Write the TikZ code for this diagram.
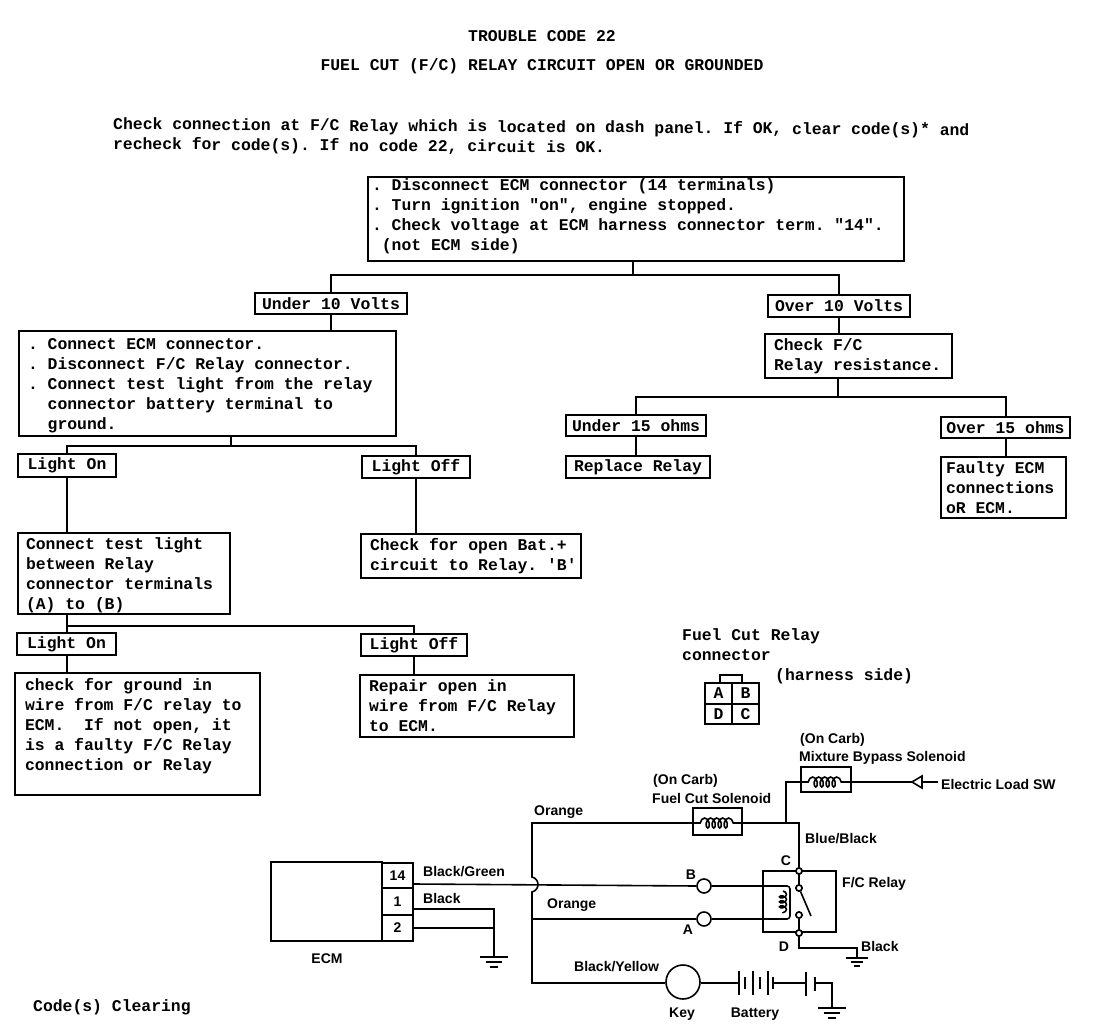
\documentclass[tikz,border=0pt]{standalone}
\usepackage{fontspec}
\usetikzlibrary{positioning,calc,decorations.pathmorphing}
\newfontfamily\flowfamily{Liberation Mono}[WordSpace={1,0,0}]
\newfontfamily\wirefont{Liberation Sans}

\begin{document}
\begin{tikzpicture}[
    x=1pt, y=-1pt,
    flow/.style={font=\flowfamily\frenchspacing\fontsize{16.4}{20}\selectfont\bfseries, inner sep=0pt},
    block/.style={flow, rectangle, draw, line width=2pt, align=flush left},
    tag/.style={block, align=center},
    conn/.style={line width=2pt},
    wire/.style={line width=1.6pt},
    wlabel/.style={font=\wirefont\fontsize{14}{16}\selectfont\bfseries, inner sep=0pt},
    pinbox/.style={rectangle, draw, line width=2pt, font=\wirefont\fontsize{14}{16}\selectfont\bfseries, inner sep=0pt},
    term/.style={circle, draw, fill=white, line width=1.6pt, inner sep=0pt},
    coilwire/.style={wire, decorate, decoration={coil, aspect=0.6, segment length=6pt, amplitude=5pt, pre length=8pt, post length=8pt}},
    gnd/.pic={
        \draw[wire] (-14,0) -- (14,0);
        \draw[wire] (-8,5) -- (8,5);
        \draw[wire] (-4,10) -- (4,10);
    },
]
\useasboundingbox (0,0) rectangle (1120,1036);

\node[flow] (title) at (542,36) {TROUBLE CODE 22};
\node[flow] (subtitle) at (542,66) {FUEL CUT (F/C) RELAY CIRCUIT OPEN OR GROUNDED};
\node[flow, align=flush left, anchor=west, rotate=-0.4] (intro) at (113,135) {Check connection at F/C Relay which is located on dash panel. If OK, clear code(s)* and\\recheck for code(s). If no code 22, circuit is OK.};

\node[block, minimum height=84pt, inner xsep=4pt, text width=528pt] (check14) at (636,219) {. Disconnect ECM connector (14 terminals)\\. Turn ignition "on", engine stopped.\\. Check voltage at ECM harness connector term. "14".\\~(not ECM side)\rule[-9.5pt]{0pt}{9.5pt}};
\node[tag, minimum width=152pt, minimum height=21pt] (under10) at (331,303.5) {Under 10 Volts};
\node[tag, minimum width=142pt, minimum height=22pt] (over10) at (839,306) {Over 10 Volts};
\node[block, minimum height=105pt, inner xsep=9pt, text width=359pt] (connect) at (207.5,383.5) {\rule{0pt}{16pt}. Connect ECM connector.\\. Disconnect F/C Relay connector.\\. Connect test light from the relay\\~~connector battery terminal to\\~~ground.};
\node[block, minimum height=44pt, inner xsep=9pt, text width=169pt] (resist) at (858.5,356) {Check F/C\\Relay resistance.};
\node[tag, minimum width=140pt, minimum height=21pt] (under15) at (636,425.5) {Under 15 ohms};
\node[tag, minimum width=129pt, minimum height=21pt] (over15) at (1005.5,427.5) {Over 15 ohms};
\node[tag, minimum width=144pt, minimum height=22pt] (replace) at (638,467) {Replace Relay};
\node[block, minimum height=61pt, inner xsep=5pt, text width=115pt] (faulty) at (1003.5,487.5) {Faulty ECM\\connections\\oR ECM.};
\node[tag, minimum width=98pt, minimum height=23pt] (on1) at (67,465.5) {Light On};
\node[tag, minimum width=108pt, minimum height=22pt] (off1) at (416,467) {Light Off};
\node[block, minimum height=81pt, inner xsep=8pt, text width=196pt] (testab) at (124,573.5) {\rule{0pt}{16pt}Connect test light\\between Relay\\connector terminals\\(A) to (B)};
\node[block, minimum height=44pt, inner xsep=9pt, text width=202pt] (openbat) at (471,556) {Check for open Bat.+\\\mbox{circuit to Relay. 'B'}};
\node[tag, minimum width=99pt, minimum height=22pt] (on2) at (66.5,644) {Light On};
\node[tag, minimum width=106pt, minimum height=22pt] (off2) at (414,645) {Light Off};
\node[block, minimum height=122pt, inner xsep=10pt, text width=225pt] (ground) at (137.5,734) {check for ground in\\wire from F/C relay to\\ECM.~~If not open, it\\is a faulty F/C Relay\\connection or Relay\\~};
\node[block, minimum height=62pt, inner xsep=9pt, text width=196pt] (repair) at (467,706) {Repair open in\\wire from F/C Relay\\to ECM.};

\coordinate (jn1) at (633,275);
\coordinate (jn2) at (838,397);
\coordinate (jn3) at (231,446);
\coordinate (jn4) at (66.5,626);

\draw[conn] (check14.south -| jn1) -- (jn1);
\draw[conn] (under10.north) |- (jn1) -| (over10.north);
\draw[conn] (under10.south) -- (connect.north -| under10.south);
\draw[conn] (over10.south) -- (resist.north -| over10.south);
\draw[conn] (resist.south -| jn2) -- (jn2);
\draw[conn] (under15.north) |- (jn2) -| (over15.north);
\draw[conn] (under15.south) -- (replace.north -| under15.south);
\draw[conn] (over15.south) -- (faulty.north -| over15.south);
\draw[conn] (connect.south -| jn3) -- (jn3);
\draw[conn] (on1.north) |- (jn3) -| (off1.north);
\draw[conn] (on1.south) -- (testab.north -| on1.south);
\draw[conn] (off1.south) -- (openbat.north -| off1.south);
\draw[conn] (testab.south -| jn4) -- (on2.north);
\draw[conn] (jn4) -| (off2.north);
\draw[conn] (on2.south) -- (ground.north -| on2.south);
\draw[conn] (off2.south) -- (repair.north -| off2.south);

\node[flow, align=flush left, anchor=west] (plugname) at (682,645) {Fuel Cut Relay\\connector};
\node[flow, anchor=west] (harness) at (775,676) {(harness side)};
\node[pinbox, flow, minimum width=27pt, minimum height=21pt] (plugA) at (718.5,693.5) {A};
\node[pinbox, flow, minimum width=27pt, minimum height=21pt] (plugB) at (745.5,693.5) {B};
\node[pinbox, flow, minimum width=27pt, minimum height=20pt] (plugD) at (718.5,714) {D};
\node[pinbox, flow, minimum width=27pt, minimum height=20pt] (plugC) at (745.5,714) {C};
\draw[conn] (plugA.north -| 720,0) |- (742,675) -- (plugB.north -| 742,0);

\node[rectangle, draw, line width=2pt, minimum width=111pt, minimum height=79pt] (ecm) at (326.5,901.5) {};
\node[wlabel] (ecmname) at (327,959) {ECM};
\node[pinbox, minimum width=31pt, minimum height=25pt] (pin14) at (397.5,875.5) {14};
\node[pinbox, minimum width=31pt, minimum height=27pt] (pin1) at (397.5,901.5) {1};
\node[pinbox, minimum width=31pt, minimum height=26pt] (pin2) at (397.5,928) {2};
\node[wlabel, anchor=west] (lblgreen) at (423,872) {Black/Green};
\node[wlabel, anchor=west] (lblblack) at (423,898) {Black};

\coordinate (blk1) at (494,909);
\coordinate (blk2) at (494,928);
\coordinate (gnd1) at (494,957);
\draw[wire] (pin1.east |- blk1) -- (blk1) -- (gnd1);
\draw[wire] (pin2.east |- blk2) -- (blk2);
\pic at (gnd1) {gnd};

\node[rectangle, draw, line width=1.6pt, minimum width=49pt, minimum height=27pt] (fcsol) at (717.5,821.5) {};
\node[rectangle, draw, line width=1.6pt, minimum width=50pt, minimum height=25pt] (mbsol) at (826,779.5) {};
\node[wlabel, anchor=west] (carb1) at (653,781) {(On Carb)};
\node[wlabel, anchor=west] (fcsname) at (652,798) {Fuel Cut Solenoid};
\node[wlabel, anchor=west] (carb2) at (800,740) {(On Carb)};
\node[wlabel, anchor=west] (mbsname) at (799,758) {Mixture Bypass Solenoid};
\node[wlabel, anchor=west] (lblorange1) at (534,812) {Orange};
\node[wlabel, anchor=west] (lblorange2) at (547,905) {Orange};
\node[wlabel, anchor=west] (lblyellow) at (574,967) {Black/Yellow};
\node[wlabel, anchor=west] (lblblue) at (805,839) {Blue/Black};

\node[rectangle, draw, line width=2pt, minimum width=73pt, minimum height=61pt] (relay) at (799.5,901.5) {};
\node[wlabel, anchor=west] (relayname) at (842,884) {F/C Relay};
\node[term, minimum size=14pt] (tb) at (704,886) {};
\node[term, minimum size=14pt] (ta) at (704,919) {};
\node[wlabel] (lblC) at (786,861) {C};
\node[wlabel] (lblD) at (784,947) {D};
\node[wlabel] (lblB) at (691,875) {B};
\node[wlabel] (lblA) at (688,930) {A};
\node[wlabel, anchor=west] (lblrelayblack) at (861,946) {Black};

\node[term, minimum size=34pt] (key) at (683,982) {};
\node[wlabel] (keyname) at (682,1014) {Key};
\node[wlabel] (batname) at (755,1014) {Battery};
\node[wlabel, anchor=west] (lblload) at (941,784) {Electric Load SW};

\coordinate (toporange) at (532,823);
\coordinate (jumptop) at (532,877);
\coordinate (jumpbot) at (532,892);
\coordinate (aorange) at (532,919);
\coordinate (keyorange) at (532,983);
\coordinate (solsplit) at (786,823);
\coordinate (relaytop) at (799,823);
\coordinate (coilbend) at (790,900);
\coordinate (coiltop) at (783,891);
\coordinate (coilbot) at (783,913);
\coordinate (relayblack) at (857,948);
\coordinate (gnd2) at (857,958);
\coordinate (batplus) at (739,983);
\coordinate (batminus) at (773,983);
\coordinate (sw1) at (806,983);
\coordinate (sw2) at (815,983);
\coordinate (gnd3) at (832,1008);
\coordinate (armend) at (811,916);
\coordinate (tipa) at (912,782);
\coordinate (tipb) at (922,776);
\coordinate (tipc) at (922,788);
\coordinate (loadend) at (938,782);

\node[term, minimum size=6pt] (tc) at (799,871) {};
\node[term, minimum size=6pt] (td) at (799,933) {};
\node[term, minimum size=6pt] (cu) at (799,888) {};
\node[term, minimum size=6pt] (cl) at (799,915) {};

\draw[wire] (pin14.east |- 0,884) -- (tb.west);
\draw[wire] (fcsol.east |- relaytop) -- (relaytop) -- (tc.north);
\draw[wire] (solsplit) |- (mbsol.west |- 0,782);
\draw[wire] (mbsol.east |- 0,782) -- (tipa);
\draw[wire] (tipa) -- (tipb) -- (tipc) -- cycle;
\draw[wire] (tipb |- loadend) -- (loadend);
\draw[wire] (fcsol.west |- 0,823) -- (toporange) -- (jumptop) .. controls (540,879) and (540,890) .. (jumpbot) -- (aorange) -- (keyorange) -- (key.west |- keyorange);
\draw[wire] (aorange) -- (ta.west);
\draw[wire, rounded corners=3pt] (tb.east) -| (coilbend) |- (ta.east);
\draw[wire, decorate, decoration={coil, aspect=0.6, segment length=5pt, amplitude=3.5pt}] (coiltop) -- (coilbot);
\draw[coilwire] (fcsol.west |- 0,823) -- (fcsol.east |- 0,823);
\draw[coilwire] (mbsol.west |- 0,782) -- (mbsol.east |- 0,782);
\draw[wire] (tc) -- (cu);
\draw[wire] (cl) -- (td);
\draw[wire] (cu) -- (armend);
\draw[wire] (td.south) |- (relayblack) -- (gnd2);
\pic[scale=0.8] at (gnd2) {gnd};
\node[term, minimum size=6pt] at (tc) {};
\node[term, minimum size=6pt] at (td) {};
\node[term, minimum size=6pt] at (cu) {};
\node[term, minimum size=6pt] at (cl) {};

\draw[wire] (key.east |- batplus) -- (batplus);
\foreach \px/\py in {739/12,745/6,753/12,760/6,768/12,773/6}{
    \draw[wire] (\px,983-\py) -- (\px,983+\py);
}
\draw[wire] (batminus) -- (sw1);
\draw[wire] (806,972) -- (806,996);
\draw[wire] (815,977) -- (815,991);
\draw[wire] (sw2) -- (gnd3 |- sw2) -- (gnd3);
\pic at (gnd3) {gnd};

\node[flow, anchor=west] (clearing) at (33,1007) {Code(s) Clearing};
\end{tikzpicture}
\end{document}
